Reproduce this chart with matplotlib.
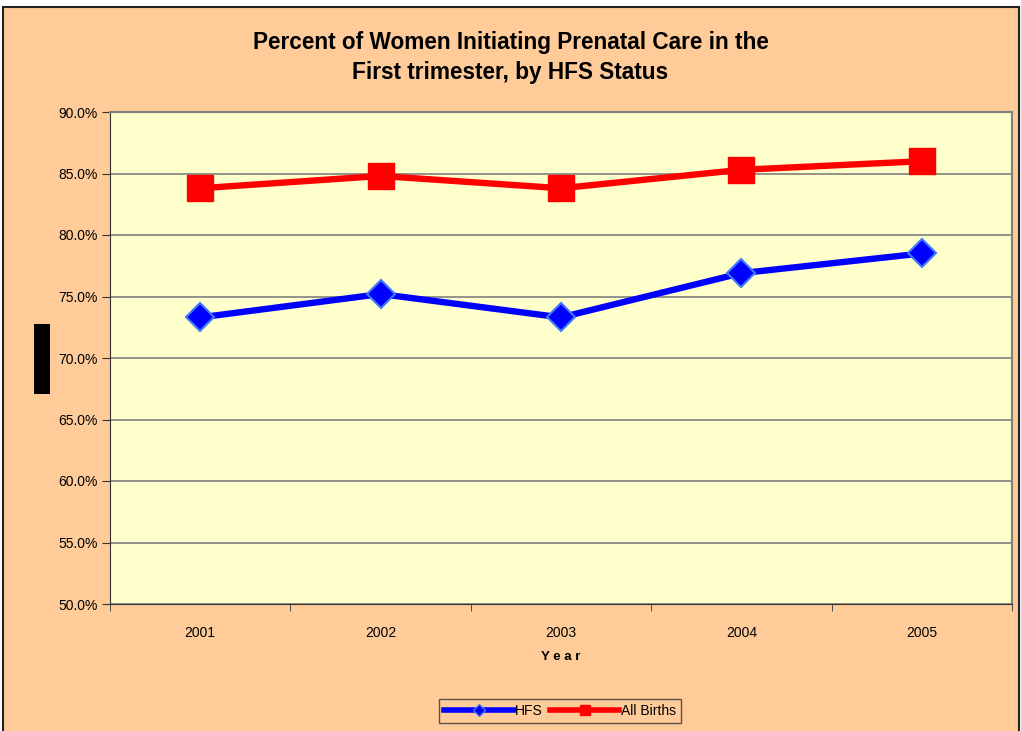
import matplotlib.pyplot as plt
import matplotlib.ticker as ticker
from matplotlib.patches import Rectangle
from matplotlib.lines import Line2D

years = ['2001', '2002', '2003', '2004', '2005']
hfs = [73.3, 75.2, 73.3, 76.9, 78.5]
all_births = [83.8, 84.8, 83.8, 85.3, 86.0]
yticks = [50, 55, 60, 65, 70, 75, 80, 85, 90]

plt.rcParams['font.family'] = ['Liberation Sans', 'DejaVu Sans']

fig = plt.figure(figsize=(10.21, 7.31), dpi=100)
fig.patch.set_facecolor('white')

# peach chart area with black frame (bottom edge runs off the image)
fig.add_artist(Rectangle((3 / 1021, -0.02), 1016 / 1021, 1.02 - 7 / 731, transform=fig.transFigure,
                         facecolor='#FFCC99', edgecolor='#222222', lw=1.5, zorder=0))

ax = fig.add_axes([110 / 1021, 1 - 604 / 731, 902 / 1021, 492 / 731])
ax.set_facecolor('#FFFFCC')

x = range(len(years))
ax.plot(x, hfs, color='#0000FF', lw=4.6, marker='D', ms=14,
        markerfacecolor='#0000FF', markeredgecolor='#3D7BFF', markeredgewidth=1.5, zorder=3)
ax.plot(x, all_births, color='#FF0000', lw=4.6, marker='s', ms=18.5,
        markerfacecolor='#FF0000', markeredgecolor='#FF0000', zorder=3)

ax.set_xlim(-0.5, len(years) - 0.5)
ax.set_ylim(50, 90)
ax.set_yticks(yticks)
ax.yaxis.set_major_formatter(ticker.FuncFormatter(lambda v, p: f'{v:.1f}%'))
ax.set_xticks(list(x))
ax.set_xticklabels(years)
ax.set_xticks([i - 0.5 for i in range(len(years) + 1)], minor=True)
ax.tick_params(axis='x', which='major', length=0, pad=16, labelsize=10)
ax.tick_params(axis='x', which='minor', length=5, direction='out', color='#333333')
ax.tick_params(axis='y', length=6, direction='out', color='#333333', labelsize=10, pad=3)
ax.grid(axis='y', color='#808080', lw=1.2)
ax.set_axisbelow(True)
for s in ['top', 'right']:
    ax.spines[s].set_color('#808080')
    ax.spines[s].set_linewidth(1.5)
for s in ['left', 'bottom']:
    ax.spines[s].set_color('#333333')

ax.set_xlabel('Y e a r', fontsize=9.5, fontweight='bold', labelpad=8)

fig.text(0.5, 1 - 42 / 731, 'Percent of Women Initiating Prenatal Care in the',
         ha='center', va='center', fontsize=16.3, fontweight='bold')
fig.text(0.5, 1 - 72 / 731, 'First trimester, by HFS Status',
         ha='center', va='center', fontsize=16.3, fontweight='bold')

# obscured y-axis title block
fig.add_artist(Rectangle((34 / 1021, 1 - 394 / 731), 16 / 1021, 70 / 731,
                         transform=fig.transFigure, facecolor='black', edgecolor='none'))

handles = [Line2D([], [], color='#0000FF', lw=4, marker='D', ms=6,
                  markerfacecolor='#0000FF', markeredgecolor='#3D7BFF'),
           Line2D([], [], color='#FF0000', lw=4, marker='s', ms=7)]
leg = fig.legend(handles, ['HFS', 'All Births'], loc='center',
                 bbox_to_anchor=(560 / 1021, 1 - 711 / 731), ncol=2,
                 fontsize=10, frameon=True, fancybox=False, handlelength=5.0,
                 handletextpad=0.1, columnspacing=0.5, borderpad=0.35)
leg.get_frame().set_facecolor('#FFCC99')
leg.get_frame().set_edgecolor('#333333')

fig.savefig('out.png', dpi=100, facecolor=fig.get_facecolor())
